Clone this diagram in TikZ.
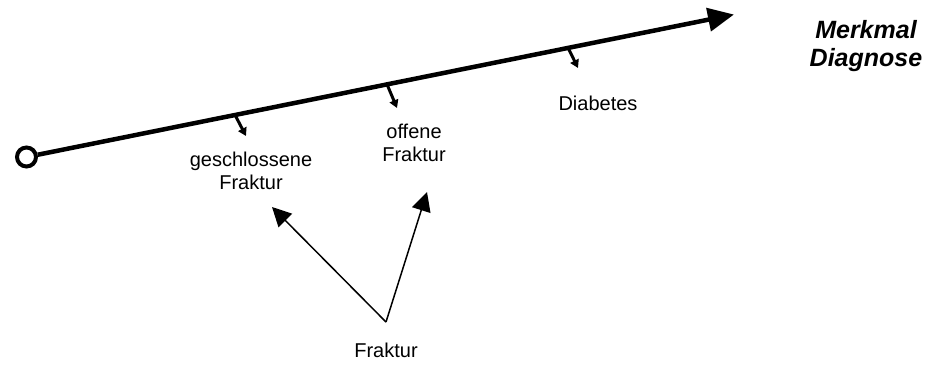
\documentclass[tikz,border=0pt]{standalone}
\usepackage{fontspec}
\setmainfont{Liberation Sans}
\usetikzlibrary{arrows.meta}

\tikzset{
	label/.style={align=center, inner sep=0pt, font=\fontsize{20}{23}\selectfont},
	axis/.style={line width=4.5pt, -{Triangle[length=26pt, width=23pt]}},
	tick/.style={line width=3pt, -{Triangle[length=8pt, width=9pt]}},
	fork/.style={line width=1.5pt, -{Triangle[length=19pt, width=19pt]}}
}

\begin{document}
\begin{tikzpicture}[x=1pt, y=-1pt]
	\useasboundingbox (0,0) rectangle (927,380);

	\node[shape=circle, draw=black, line width=4pt, minimum size=19pt, inner sep=0pt] (start) at (26.5,157) {};
	\coordinate (axisend) at (734,14.5);

	\coordinate (t1)  at (235,114.9);
	\coordinate (t1e) at (246,136);
	\coordinate (t2)  at (387,84.3);
	\coordinate (t2e) at (397,108);
	\coordinate (t3)  at (568,47.7);
	\coordinate (t3e) at (578,68);

	\node[label] (geschl)   at (251,171) {geschlossene\\Fraktur};
	\node[label] (offen)    at (414,143) {offene\\Fraktur};
	\node[label] (diab)     at (598,103) {Diabetes};
	\node[label] (fraktur)  at (386,350) {Fraktur};
	\node[label, font=\fontsize{25}{28}\selectfont\bfseries\itshape] (merkmal) at (866,46) {Merkmal\\Diagnose};

	\coordinate (fork)  at (386,322);
	\coordinate (forkA) at (272,207);
	\coordinate (forkB) at (427,192);

	\path [axis] (start) edge (axisend);
	\path [tick] (t1) edge (t1e);
	\path [tick] (t2) edge (t2e);
	\path [tick] (t3) edge (t3e);
	\path [fork] (fork) edge (forkA);
	\path [fork] (fork) edge (forkB);
\end{tikzpicture}
\end{document}
